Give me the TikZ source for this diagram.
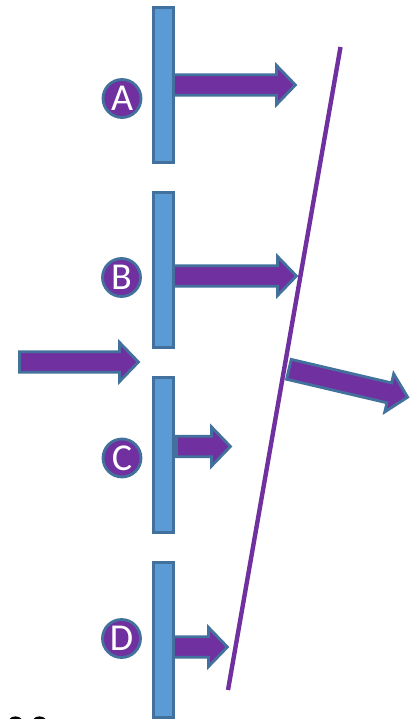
\documentclass[tikz,border=0pt]{standalone}
\usepackage{fontspec}
\setmainfont{Carlito}
\usetikzlibrary{shapes.arrows}
\definecolor{barfill}{HTML}{5B9BD5}
\definecolor{edgeblue}{HTML}{41719C}
\definecolor{purp}{HTML}{7030A0}
\tikzset{
  plate/.style={draw=edgeblue,fill=barfill,line width=2.8pt,rectangle,inner sep=0pt,minimum width=19.6pt,minimum height=155pt,anchor=north},
  beam/.style={draw=edgeblue,fill=purp,line width=2.8pt,single arrow,inner xsep=0pt,inner ysep=8.8pt,
    single arrow head extend=9.4pt,single arrow tip angle=92,anchor=tail,font=\tiny},
  tag/.style={circle,draw=edgeblue,fill=purp,line width=2.8pt,minimum size=38pt,inner sep=0pt,text=white,font=\fontsize{38}{38}\selectfont},
  ray/.style={draw=purp,line width=4.4pt}
}
\begin{document}
\begin{tikzpicture}[x=1pt,y=-1pt]
\useasboundingbox (0,0) rectangle (418,719);
% arrows leaving the plates
\node[beam,minimum height=122pt] (arrA) at (172,85) {};
\node[beam,minimum height=123pt] (arrB) at (172,276) {};
\node[beam,minimum height=54pt] (arrC) at (175,446.5) {};
\node[beam,minimum height=54pt] (arrD) at (172,647) {};
% plates
\node[plate] (plA) at (163.5,6.4) {};
\node[plate] (plB) at (163.5,191.2) {};
\node[plate] (plC) at (163.5,376.2) {};
\node[plate] (plD) at (163.5,560.7) {};
% incoming arrow
\node[beam,minimum height=119pt] (arrIn) at (18,362) {};
% slanted line
\coordinate (lnTop) at (340.5,47);
\coordinate (lnBot) at (228,690);
\draw[ray] (lnTop) -- (lnBot);
% outgoing arrow
\node[beam,minimum height=122pt,rotate=-13.2] (arrOut) at (287.5,369) {};
% labels
\node[tag] (tagA) at (122,98.5) {A};
\node[tag] (tagB) at (121.5,277.5) {B};
\node[tag] (tagC) at (122,458) {C};
\node[tag] (tagD) at (121.5,638.5) {D};
% tops of clipped glyphs at the lower edge
\fill[black] (9.5,719) .. controls (12,715.5) and (19,715.5) .. (21.5,719) -- cycle;
\fill[black] (33.5,719) .. controls (36,715.5) and (43,715.5) .. (45.5,719) -- cycle;
\end{tikzpicture}
\end{document}
